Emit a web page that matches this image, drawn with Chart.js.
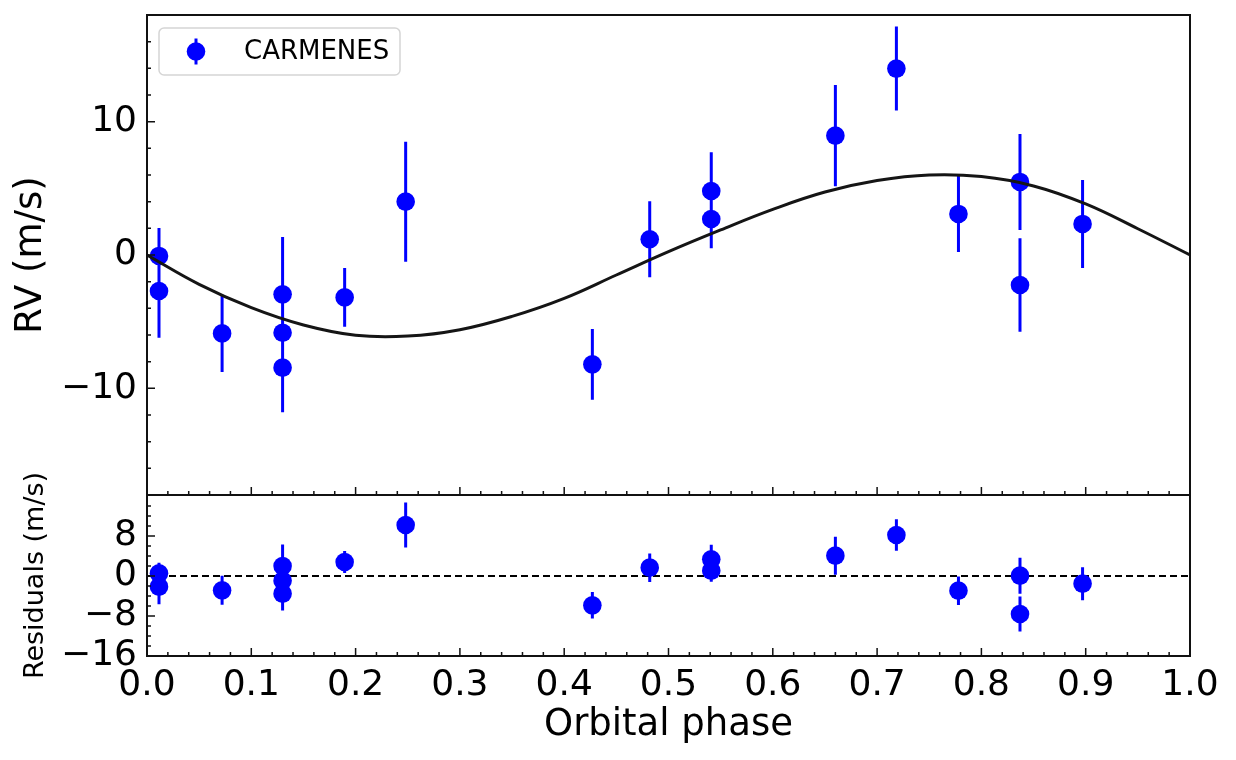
<!DOCTYPE html>
<html>
<head>
<meta charset="utf-8">
<script src="https://cdn.jsdelivr.net/npm/chart.js@4.4.1/dist/chart.umd.min.js"></script>
<style>
  html, body { margin: 0; padding: 0; background: #fff; }
  #wrap { position: relative; width: 1236px; height: 760px; background: #fff; overflow: hidden; }
  canvas { position: absolute; left: 0; }
</style>
</head>
<body>
<div id="wrap">
  <canvas id="rvChart" width="1236" height="496" style="top:0px"></canvas>
  <canvas id="resChart" width="1236" height="320" style="top:440px"></canvas>
</div>
<script>
// CARMENES RVs folded on the orbital phase
var phase = [0.0115, 0.0115, 0.072, 0.130, 0.130, 0.130, 0.1895, 0.248, 0.427,
             0.482, 0.541, 0.541, 0.660, 0.7185, 0.778, 0.837, 0.837, 0.897];
var rv    = [-0.07, -2.7, -5.88, -2.95, -5.83, -8.45, -3.18, 4.0, -8.2,
             1.18, 4.8, 2.7, 8.95, 13.98, 3.08, 5.48, -2.25, 2.33];
var rvErr = [2.1, 3.5, 2.9, 4.3, 3.0, 3.35, 2.2, 4.5, 2.65,
             2.85, 2.9, 2.2, 3.8, 3.15, 2.85, 3.6, 3.5, 3.3];
var resid = [0.53, -2.13, -2.87, 2.0, -0.93, -3.53, 2.8, 10.2, -5.87,
             1.67, 3.33, 1.07, 4.07, 8.2, -2.93, 0.07, -7.6, -1.53];

// best fit model, sampled from the black curve every 0.05 in phase
var modelPhase = [0, 0.05, 0.10, 0.15, 0.20, 0.25, 0.30, 0.35, 0.40, 0.45, 0.50,
                  0.55, 0.60, 0.65, 0.70, 0.75, 0.80, 0.85, 0.90, 0.95, 1.0];
var modelRv    = [0, -2.2, -3.95, -5.25, -6.02, -6.08, -5.6, -4.6, -3.25, -1.5, 0.25,
                  1.88, 3.42, 4.72, 5.58, 6.0, 5.88, 5.18, 3.83, 1.97, 0];

// dashed zero line of the residual panel
var zeroX = [0, 1];
var zeroY = [0, 0];

// ticks
var xMajor  = [0, 0.1, 0.2, 0.3, 0.4, 0.5, 0.6, 0.7, 0.8, 0.9, 1.0];
var xLabels = ['0.0', '0.1', '0.2', '0.3', '0.4', '0.5', '0.6', '0.7', '0.8', '0.9', '1.0'];
var rvMajor  = [-10, 0, 10];
var rvLabels = ['\u221210', '0', '10'];
var resMajor  = [-16, -8, 0, 8];
var resLabels = ['\u221216', '\u22128', '0', '8'];

var FONT = 'DejaVu Sans';
var BLUE = '#0000ff';
var INK = '#111111';

function pts(xs, ys) {
  return xs.map(function (x, i) { return { x: x, y: ys[i] }; });
}

// frame, inward ticks, error bars and legend (matplotlib look)
var panelDecor = {
  id: 'panelDecor',
  beforeDatasetsDraw: function (chart) {
    var ctx = chart.ctx, a = chart.chartArea;
    var xs = chart.scales.x, ys = chart.scales.y;
    ctx.save();
    ctx.beginPath();
    ctx.rect(a.left, a.top, a.right - a.left, a.bottom - a.top);
    ctx.clip();
    chart.data.datasets.forEach(function (ds) {
      if (!ds.errors) return;
      ctx.strokeStyle = ds.backgroundColor;
      ctx.lineWidth = 3;
      ctx.beginPath();
      ds.data.forEach(function (p, i) {
        var px = xs.getPixelForValue(p.x);
        ctx.moveTo(px, ys.getPixelForValue(p.y + ds.errors[i]));
        ctx.lineTo(px, ys.getPixelForValue(p.y - ds.errors[i]));
      });
      ctx.stroke();
    });
    ctx.restore();
  },
  afterDraw: function (chart, args, o) {
    var ctx = chart.ctx, a = chart.chartArea;
    var xs = chart.scales.x, ys = chart.scales.y;
    ctx.save();
    ctx.strokeStyle = INK;
    ctx.lineWidth = 1.5;
    ctx.beginPath();
    // x ticks along the bottom edge, pointing in
    for (var i = 0; i <= 50; i++) {
      var v = i * 0.02;
      var major = Math.abs(v * 10 - Math.round(v * 10)) < 1e-6;
      var px = xs.getPixelForValue(v);
      ctx.moveTo(px, a.bottom);
      ctx.lineTo(px, a.bottom - (major ? 8 : 4));
    }
    // y ticks along the left edge
    for (var y = o.yFrom; y <= o.yTo + 1e-6; y += 2) {
      var major2 = o.yMajor.indexOf(y) >= 0;
      var py = ys.getPixelForValue(y);
      ctx.moveTo(a.left, py);
      ctx.lineTo(a.left + (major2 ? 8 : 4), py);
    }
    ctx.stroke();
    ctx.lineWidth = 2;
    ctx.strokeRect(a.left, a.top, a.right - a.left, a.bottom - a.top);

    if (o.legend) {
      var lx = a.left + 12, ly = a.top + 13, lw = 241, lh = 47;
      ctx.beginPath();
      ctx.roundRect(lx, ly, lw, lh, 5);
      ctx.fillStyle = 'rgba(255,255,255,0.8)';
      ctx.fill();
      ctx.strokeStyle = '#d5d5d5';
      ctx.lineWidth = 1.5;
      ctx.stroke();
      var mx = lx + 37, my = ly + lh / 2;
      ctx.strokeStyle = BLUE;
      ctx.lineWidth = 3;
      ctx.beginPath();
      ctx.moveTo(mx, my - 13);
      ctx.lineTo(mx, my + 13);
      ctx.stroke();
      ctx.fillStyle = BLUE;
      ctx.beginPath();
      ctx.arc(mx, my, 9.3, 0, Math.PI * 2);
      ctx.fill();
      ctx.fillStyle = '#000';
      ctx.font = '26px "' + FONT + '"';
      ctx.textBaseline = 'middle';
      ctx.textAlign = 'left';
      ctx.fillText(o.legend, lx + 85, my + 1);
    }
    ctx.restore();
  }
};

function yAxis(min, max, major, labels, title, titleSize, titlePad) {
  return {
    min: min, max: max,
    afterFit: function (s) { s.width = 147; s.paddingTop = 0; s.paddingBottom = 0; },
    afterBuildTicks: function (s) { s.ticks = major.map(function (v) { return { value: v }; }); },
    ticks: {
      font: { family: FONT, size: 36 }, color: '#000', padding: 10,
      callback: function (v, i) { return labels[i]; }
    },
    grid: { display: false, drawTicks: false },
    border: { display: false },
    title: {
      display: true, text: title, color: '#000',
      font: { family: FONT, size: titleSize }, padding: { top: titlePad, bottom: 0 }
    }
  };
}

var pointStyle = {
  backgroundColor: BLUE, borderColor: BLUE, borderWidth: 0,
  pointRadius: 9.3, pointHoverRadius: 9.3, showLine: false, order: 1
};

var ctxRV = document.getElementById('rvChart').getContext('2d');
var chartRV = new Chart(ctxRV, {
  type: 'scatter',
  data: {
    datasets: [
      Object.assign({ label: 'CARMENES', data: pts(phase, rv), errors: rvErr }, pointStyle),
      {
        type: 'line', label: 'model', data: pts(modelPhase, modelRv),
        borderColor: '#151515', borderWidth: 3, pointRadius: 0,
        tension: 0.4, fill: false, order: 0
      }
    ]
  },
  options: {
    responsive: false, animation: false,
    layout: { autoPadding: false, padding: { top: 15, left: 0, right: 46, bottom: 1 } },
    plugins: {
      legend: { display: false }, tooltip: { enabled: false },
      panelDecor: { yFrom: -18, yTo: 18, yMajor: rvMajor, legend: 'CARMENES' }
    },
    scales: {
      x: { type: 'linear', min: 0, max: 1, display: false },
      y: yAxis(-18, 18, rvMajor, rvLabels, 'RV (m/s)', 37, 9)
    }
  },
  plugins: [panelDecor]
});

var ctxRes = document.getElementById('resChart').getContext('2d');
var chartRes = new Chart(ctxRes, {
  type: 'scatter',
  data: {
    datasets: [
      Object.assign({ label: 'residuals', data: pts(phase, resid), errors: rvErr }, pointStyle),
      {
        type: 'line', label: 'zero', data: pts(zeroX, zeroY),
        borderColor: '#000', borderWidth: 2, borderDash: [7, 4], pointRadius: 0, order: 2
      }
    ]
  },
  options: {
    responsive: false, animation: false,
    layout: { autoPadding: false, padding: { top: 55, left: 0, right: 46, bottom: 0 } },
    plugins: {
      legend: { display: false }, tooltip: { enabled: false },
      panelDecor: { yFrom: -16, yTo: 14, yMajor: resMajor }
    },
    scales: {
      x: {
        type: 'linear', min: 0, max: 1,
        afterFit: function (s) { s.height = 104; s.paddingLeft = 0; s.paddingRight = 0; },
        afterBuildTicks: function (s) { s.ticks = xMajor.map(function (v) { return { value: v }; }); },
        ticks: {
          font: { family: FONT, size: 36 }, color: '#000', padding: 8,
          autoSkip: false, maxRotation: 0,
          callback: function (v, i) { return xLabels[i]; }
        },
        grid: { display: false, drawTicks: false },
        border: { display: false },
        title: {
          display: true, text: 'Orbital phase', color: '#000',
          font: { family: FONT, size: 37 }, padding: { top: 0, bottom: 12 }
        }
      },
      y: yAxis(-16, 16.2, resMajor, resLabels, 'Residuals (m/s)', 27, 20)
    }
  },
  plugins: [panelDecor]
});
</script>
</body>
</html>
